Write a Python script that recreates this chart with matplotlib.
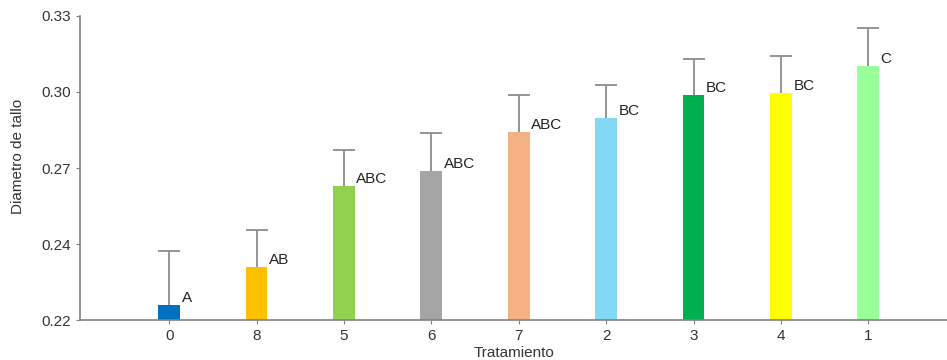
import numpy as np
import matplotlib.pyplot as plt

plt.rcParams['font.family'] = ['Liberation Sans', 'DejaVu Sans']

# Treatment order, means, upper errors and letter groups
tratamientos = ['0', '8', '5', '6', '7', '2', '3', '4', '1']
medias = [0.2203, 0.2341, 0.2635, 0.2690, 0.2830, 0.2880, 0.2964, 0.2970, 0.3070]
error_sup = [0.0198, 0.0134, 0.0131, 0.0137, 0.0134, 0.0119, 0.0130, 0.0135, 0.0136]
letras = ['A', 'AB', 'ABC', 'ABC', 'ABC', 'BC', 'BC', 'BC', 'C']
colores = ['#0070C0', '#FFC000', '#92D050', '#A5A5A5', '#F4B183',
           '#83D9F4', '#00B050', '#FFFF00', '#99FF99']

y_ticks = [0.215, 0.2425, 0.27, 0.2975, 0.325]
y_labels = ['0.22', '0.24', '0.27', '0.30', '0.33']

fig = plt.figure(figsize=(9.47, 3.6), dpi=100)
ax = fig.add_axes([0.0845, 0.111, 0.9155, 0.8446])

x = np.arange(len(tratamientos))
ancho = 0.25
ax.bar(x, medias, width=ancho, color=colores, zorder=2)
eb = ax.errorbar(x, medias, yerr=[np.zeros(len(medias)), error_sup], fmt='none',
                 ecolor='#8c8c8c', elinewidth=1.3, capsize=8, capthick=1.3, zorder=1)
# only the upper cap is shown
eb[1][0].set_visible(False)

for xi, m, l in zip(x, medias, letras):
    ax.annotate(l, (xi + ancho / 2, m), xytext=(1, 0), textcoords='offset points',
                ha='left', va='bottom', fontsize=11, color='#222222')

ax.set_xlim(-1.02, 8.9)
ax.set_ylim(0.215, 0.325)
ax.set_xticks(x)
ax.set_xticklabels(tratamientos)
ax.set_yticks(y_ticks)
ax.set_yticklabels(y_labels)

for s in ['top', 'right']:
    ax.spines[s].set_visible(False)
for s in ['left', 'bottom']:
    ax.spines[s].set_color('#808080')
    ax.spines[s].set_linewidth(1.2)
ax.tick_params(axis='both', colors='#808080', labelcolor='#333333',
               labelsize=11, length=3)

ax.set_xlabel('Tratamiento', fontsize=11, color='#333333', labelpad=2)
ax.set_ylabel('Diametro de tallo', fontsize=11, color='#333333')
ax.yaxis.set_label_coords(-0.064, 0.538)

fig.savefig('out.png', dpi=100)
